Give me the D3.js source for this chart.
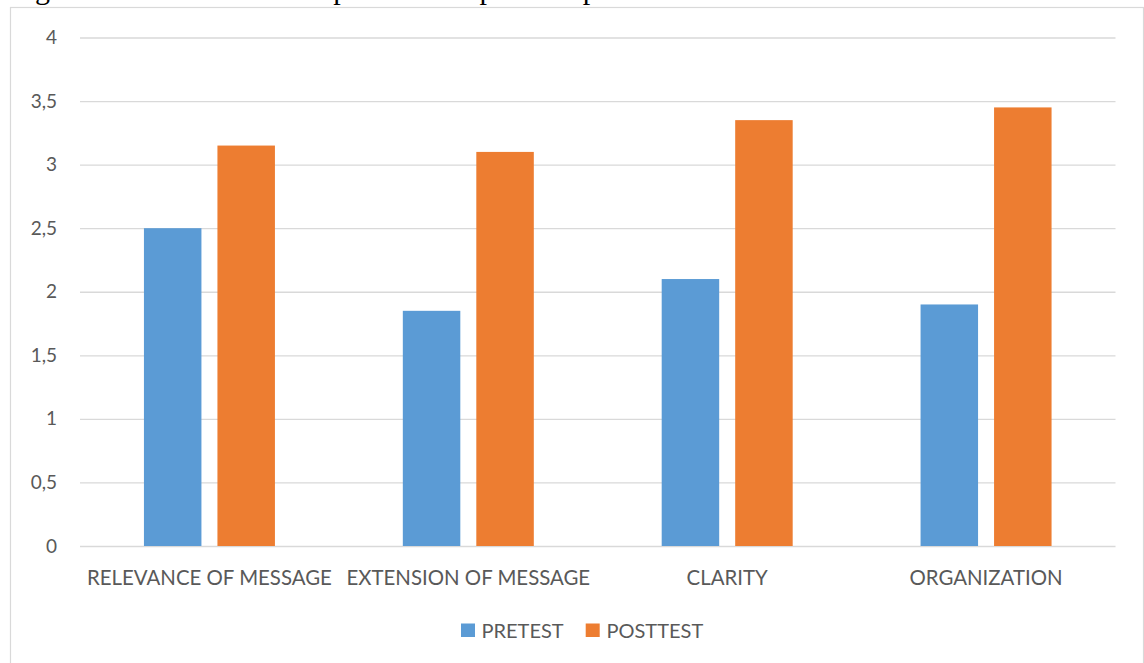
<!DOCTYPE html>
<html>
<head>
<meta charset="utf-8">
<script src="https://cdn.jsdelivr.net/npm/d3@7"></script>
<style>
  html, body { margin: 0; padding: 0; background: #ffffff; }
  svg { display: block; }
</style>
</head>
<body>
<div id="chart"></div>
<script>
// ---- data ----
const categories = ["RELEVANCE OF MESSAGE", "EXTENSION OF MESSAGE", "CLARITY", "ORGANIZATION"];
const seriesNames = ["PRETEST", "POSTTEST"];
const pretest = [2.5, 1.85, 2.1, 1.9];
const posttest = [3.15, 3.1, 3.35, 3.45];
const yTicks = [0, 0.5, 1, 1.5, 2, 2.5, 3, 3.5, 4];
const captionText = "Figure 14. Results of the pretest and posttest per criterion.";

const seriesValues = [pretest, posttest];
const colors = ["#5B9BD5", "#ED7D31"];

const W = 1144, H = 663;
const plot = { left: 80, right: 1115.5, top: 37.5, bottom: 546 };
const textColor = "#595959";
const font = "Lato, 'Open Sans', sans-serif";

const svg = d3.select("#chart").append("svg")
  .attr("width", W).attr("height", H);

svg.append("rect").attr("width", W).attr("height", H).attr("fill", "#fff");

// cropped caption line from the document above the chart
svg.append("text")
  .attr("x", 10).attr("y", -1)
  .attr("font-family", "'Liberation Serif', 'Times New Roman', serif")
  .attr("font-size", 30)
  .attr("word-spacing", 4)
  .attr("fill", "#000")
  .text(captionText);

// chart area border
svg.append("rect")
  .attr("x", 10.5).attr("y", 7.5)
  .attr("width", 1133).attr("height", 700)
  .attr("fill", "#fff")
  .attr("stroke", "#d9d9d9").attr("stroke-width", 1.2);

const y = d3.scaleLinear().domain([0, 4]).range([plot.bottom, plot.top]);
const x0 = d3.scaleBand().domain(categories).range([plot.left, plot.right]).padding(0);
const groupW = x0.bandwidth() * 0.506;
const x1 = d3.scaleBand().domain(seriesNames).range([-groupW / 2, groupW / 2]).paddingInner(0.2177);

const locale = d3.formatLocale({ decimal: ",", thousands: ".", grouping: [3], currency: ["", ""] });
const fmt = locale.format("~g");

// y axis with gridlines
const yAxis = svg.append("g")
  .attr("transform", `translate(${plot.left},0)`)
  .call(d3.axisLeft(y).tickValues(yTicks).tickFormat(fmt)
    .tickSize(-(plot.right - plot.left)).tickPadding(23));
yAxis.select(".domain").remove();
yAxis.selectAll(".tick line").attr("stroke", "#d9d9d9").attr("stroke-width", 1.3);
yAxis.selectAll(".tick text")
  .attr("fill", textColor)
  .attr("font-family", font)
  .attr("font-size", 19);

// bars
const groups = svg.append("g").selectAll("g")
  .data(categories)
  .join("g")
  .attr("transform", d => `translate(${x0(d) + x0.bandwidth() / 2},0)`);

groups.selectAll("rect")
  .data((c, i) => seriesNames.map((s, j) => ({ s, j, v: seriesValues[j][i] })))
  .join("rect")
  .attr("x", d => x1(d.s))
  .attr("width", x1.bandwidth())
  .attr("y", d => y(d.v))
  .attr("height", d => y(0) - y(d.v))
  .attr("fill", d => colors[d.j]);

// x axis labels
const xAxis = svg.append("g")
  .attr("transform", `translate(0,${plot.bottom})`)
  .call(d3.axisBottom(x0).tickSize(0));
xAxis.select(".domain").remove();
xAxis.selectAll(".tick text")
  .attr("y", 39).attr("dy", 0)
  .attr("fill", textColor)
  .attr("font-family", font)
  .attr("font-size", 20.4);

// legend
const legendItems = [
  { name: seriesNames[0], color: colors[0], sx: 461, tx: 481.5 },
  { name: seriesNames[1], color: colors[1], sx: 585.7, tx: 606.5 }
];
const legend = svg.append("g");
legendItems.forEach(it => {
  legend.append("rect")
    .attr("x", it.sx).attr("y", 623.5)
    .attr("width", 14).attr("height", 13.5)
    .attr("fill", it.color);
  legend.append("text")
    .attr("x", it.tx).attr("y", 637.5)
    .attr("fill", textColor)
    .attr("font-family", font)
    .attr("font-size", 20)
    .text(it.name);
});
</script>
</body>
</html>
